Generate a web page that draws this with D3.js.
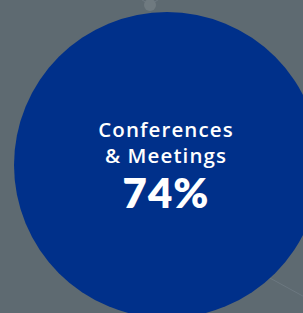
<!DOCTYPE html>
<html>
<head>
<meta charset="utf-8">
<script src="https://cdn.jsdelivr.net/npm/d3@7"></script>
<style>
  body { margin: 0; background: #5e6a71; }
  svg { display: block; }
</style>
</head>
<body>
<div id="chart"></div>
<script>
// data
const categories = ["Conferences", "& Meetings"]
const values = [74]
const valueLabels = ["74%"]

const width = 303, height = 313

const svg = d3.select("#chart")
  .append("svg")
    .attr("width", width)
    .attr("height", height)

svg.append("rect")
  .attr("width", width)
  .attr("height", height)
  .attr("fill", "#5e6a71")

// bubble size from value
const r = d3.scaleSqrt()
  .domain([0, 74])
  .range([0, 153])

const cx = 167, cy = 165

// faint connector lines of the bubble network behind
const links = svg.append("g")
  .attr("stroke", "#75808a")
  .attr("stroke-width", 1)
  .attr("opacity", 0.6)
links.append("line").attr("x1", 150).attr("y1", 5).attr("x2", 136).attr("y2", -4)
links.append("line").attr("x1", 150).attr("y1", 5).attr("x2", 164).attr("y2", -4)
links.append("line").attr("x1", 268).attr("y1", 277).attr("x2", 310).attr("y2", 300)
svg.append("circle")
  .attr("cx", 150).attr("cy", 5).attr("r", 6)
  .attr("fill", "#6f7a80")

// main bubble
svg.selectAll(".bubble")
  .data(values)
  .join("circle")
    .attr("class", "bubble")
    .attr("cx", cx)
    .attr("cy", cy)
    .attr("r", d => r(d))
    .attr("fill", "#00308a")

const g = svg.append("g")
  .attr("text-anchor", "middle")
  .attr("fill", "#ffffff")

g.selectAll(".cat")
  .data(categories)
  .join("text")
    .attr("class", "cat")
    .attr("x", cx - 1)
    .attr("y", (d, i) => 137 + i * 26)
    .attr("font-family", "'Open Sans', sans-serif")
    .attr("font-size", 20.5)
    .attr("font-weight", 600)
    .attr("letter-spacing", 1.1)
    .text(d => d)

g.append("text")
  .attr("x", cx - 1)
  .attr("y", 208)
  .attr("font-family", "Lato, 'Noto Sans', sans-serif")
  .attr("font-size", 42)
  .attr("font-weight", 800)
  .attr("letter-spacing", 1)
  .text(valueLabels[0])
</script>
</body>
</html>
